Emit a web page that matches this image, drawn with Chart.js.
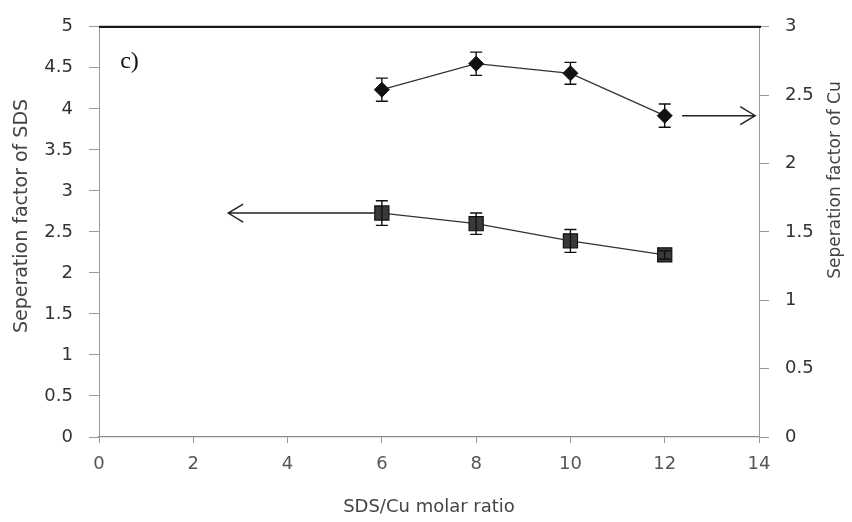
<!DOCTYPE html>
<html>
<head>
  <meta charset="UTF-8">
  <title>Separation factor vs SDS/Cu molar ratio</title>
  <script src="https://cdn.jsdelivr.net/npm/chart.js"></script>
  <style>
    html, body { margin: 0; padding: 0; background: #fff; }
    #wrap { width: 852px; height: 522px; }
  </style>
</head>
<body>
  <div id="wrap"><canvas id="chart"></canvas></div>

  <script>
    // SDS/Cu molar ratio
    const ratio = [6, 8, 10, 12];
    // separation factor of SDS (left axis) with error
    const sdsFactor = [2.73, 2.60, 2.39, 2.22];
    const sdsError = [0.15, 0.13, 0.14, 0.05];
    // separation factor of Cu (right axis) with error
    const cuFactor = [2.54, 2.73, 2.66, 2.35];
    const cuError = [0.085, 0.085, 0.08, 0.085];

    const xTicks = [0, 2, 4, 6, 8, 10, 12, 14];
    const sdsTicks = [0, 0.5, 1, 1.5, 2, 2.5, 3, 3.5, 4, 4.5, 5];
    const cuTicks = [0, 0.5, 1, 1.5, 2, 2.5, 3];

    // arrows: [tail x, head x] on the series' first / last value
    const sdsArrow = [5.85, 2.74];
    const cuArrow = [12.37, 13.92];

    const FONT = "'DejaVu Sans', sans-serif";
    const plain = v => String(v);

    function arrow(ctx, x1, x2, y) {
      const dir = Math.sign(x2 - x1);
      ctx.beginPath();
      ctx.moveTo(x1, y);
      ctx.lineTo(x2, y);
      ctx.moveTo(x2 - dir * 15, y - 9);
      ctx.lineTo(x2, y);
      ctx.lineTo(x2 - dir * 15, y + 9);
      ctx.stroke();
    }

    const errorBars = {
      id: "errorBars",
      afterDatasetsDraw(chart) {
        const ctx = chart.ctx;
        const xs = chart.scales.x;
        ctx.save();
        ctx.strokeStyle = "#111";
        ctx.lineWidth = 1.4;
        chart.data.datasets.forEach(ds => {
          const ys = chart.scales[ds.yAxisID];
          ds.data.forEach((p, i) => {
            const px = xs.getPixelForValue(p.x);
            const top = ys.getPixelForValue(p.y + ds.errors[i]);
            const bot = ys.getPixelForValue(p.y - ds.errors[i]);
            ctx.beginPath();
            ctx.moveTo(px, top); ctx.lineTo(px, bot);
            ctx.moveTo(px - 6, top); ctx.lineTo(px + 6, top);
            ctx.moveTo(px - 6, bot); ctx.lineTo(px + 6, bot);
            ctx.stroke();
          });
        });
        ctx.restore();
      }
    };

    const decorations = {
      id: "decorations",
      afterDraw(chart) {
        const ctx = chart.ctx;
        const { left, right, top } = chart.chartArea;
        const xs = chart.scales.x, ys = chart.scales.y, ys1 = chart.scales.y1;
        ctx.save();

        // heavy frame line along the top
        ctx.strokeStyle = "#1a1a1a";
        ctx.lineWidth = 2.2;
        ctx.beginPath();
        ctx.moveTo(left, top);
        ctx.lineTo(right + 2, top);
        ctx.stroke();

        // panel letter
        ctx.fillStyle = "#111";
        ctx.font = "24px 'Liberation Serif', serif";
        ctx.textAlign = "left";
        ctx.textBaseline = "middle";
        ctx.fillText("c)", xs.getPixelForValue(0.45), ys.getPixelForValue(4.57));

        // arrows pointing each series at its axis
        ctx.strokeStyle = "#222";
        ctx.lineWidth = 1.4;
        arrow(ctx, xs.getPixelForValue(sdsArrow[0]), xs.getPixelForValue(sdsArrow[1]), ys.getPixelForValue(sdsFactor[0]));
        arrow(ctx, xs.getPixelForValue(cuArrow[0]), xs.getPixelForValue(cuArrow[1]), ys1.getPixelForValue(cuFactor[cuFactor.length - 1]));

        // vertical axis titles
        ctx.fillStyle = "#444";
        ctx.textAlign = "center";
        ctx.textBaseline = "middle";
        ctx.save();
        ctx.translate(22, 216);
        ctx.rotate(-Math.PI / 2);
        ctx.font = "19px " + FONT;
        ctx.fillText("Seperation factor of SDS", 0, 0);
        ctx.restore();

        ctx.save();
        ctx.translate(836, 180);
        ctx.rotate(-Math.PI / 2);
        ctx.font = "17px " + FONT;
        ctx.fillText("Seperation factor of Cu", 0, 0);
        ctx.restore();

        ctx.restore();
      }
    };

    new Chart(document.getElementById("chart"), {
      type: "line",
      data: {
        datasets: [
          {
            label: "SDS",
            yAxisID: "y",
            data: ratio.map((r, i) => ({ x: r, y: sdsFactor[i] })),
            errors: sdsError,
            borderColor: "#333",
            borderWidth: 1.3,
            pointStyle: "rect",
            pointRadius: 10,
            pointBackgroundColor: "#3a3a3a",
            pointBorderColor: "#111",
            pointBorderWidth: 1.2,
            tension: 0
          },
          {
            label: "Cu",
            yAxisID: "y1",
            data: ratio.map((r, i) => ({ x: r, y: cuFactor[i] })),
            errors: cuError,
            borderColor: "#333",
            borderWidth: 1.3,
            pointStyle: "rectRot",
            pointRadius: 7.5,
            pointBackgroundColor: "#111",
            pointBorderColor: "#111",
            pointBorderWidth: 1,
            tension: 0
          }
        ]
      },
      options: {
        responsive: true,
        maintainAspectRatio: false,
        animation: false,
        layout: { padding: { top: 20, left: 0, right: 0, bottom: 0 } },
        plugins: {
          legend: { display: false },
          tooltip: { enabled: false }
        },
        scales: {
          x: {
            type: "linear",
            position: "bottom",
            min: 0,
            max: 14,
            afterBuildTicks: s => { s.ticks = xTicks.map(v => ({ value: v })); },
            afterFit: s => { s.height = 85; },
            grid: { drawOnChartArea: false, tickLength: 6, color: "#999" },
            border: { color: "#8a8a8a", width: 1.2 },
            ticks: { padding: 11, color: "#555", callback: plain, font: { family: FONT, size: 18 } },
            title: {
              display: true,
              text: "SDS/Cu molar ratio",
              color: "#444",
              font: { family: FONT, size: 18 },
              padding: { top: 0, bottom: 4 }
            }
          },
          y: {
            position: "left",
            min: 0,
            max: 5,
            afterBuildTicks: s => { s.ticks = sdsTicks.map(v => ({ value: v })); },
            afterFit: s => { s.width = 99; },
            grid: { drawOnChartArea: false, tickLength: 10, color: "#999" },
            border: { color: "#9a9a9a", width: 1 },
            ticks: { padding: 16, color: "#333", callback: plain, font: { family: FONT, size: 18 } }
          },
          y1: {
            position: "right",
            min: 0,
            max: 3,
            afterBuildTicks: s => { s.ticks = cuTicks.map(v => ({ value: v })); },
            afterFit: s => { s.width = 93; },
            grid: { drawOnChartArea: false, tickLength: 10, color: "#999" },
            border: { color: "#9a9a9a", width: 1 },
            ticks: { padding: 16, color: "#333", callback: plain, font: { family: FONT, size: 18 } }
          }
        }
      },
      plugins: [errorBars, decorations]
    });
  </script>
</body>
</html>
